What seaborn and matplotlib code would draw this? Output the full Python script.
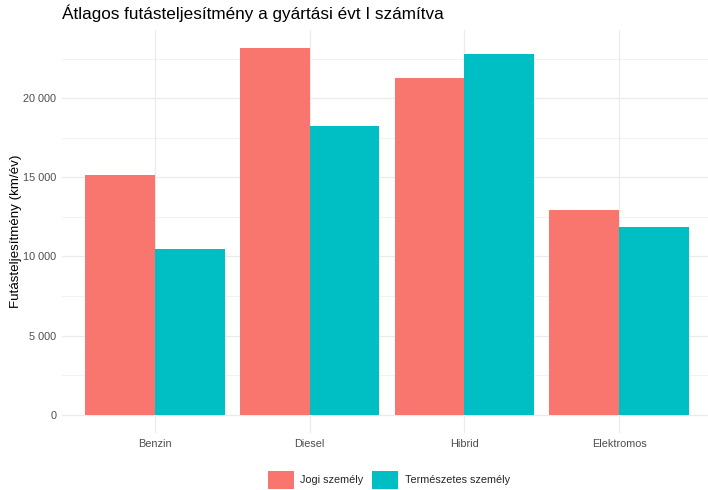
import pandas as pd
import numpy as np
import matplotlib
matplotlib.use("Agg")
import matplotlib.pyplot as plt
import seaborn as sns
from matplotlib.ticker import FuncFormatter, MultipleLocator

# adatok
uzemanyag = ["Benzin", "Diesel", "Hibrid", "Elektromos"]
jogi = [15150, 23150, 21260, 12930]
termeszetes = [10470, 18230, 22780, 11860]
csoportok = ["Jogi személy", "Természetes személy"]
szinek = ["#F8766D", "#00BFC4"]

df = pd.DataFrame({
    "uzemanyag": uzemanyag * 2,
    "ertek": jogi + termeszetes,
    "tulajdonos": [csoportok[0]] * 4 + [csoportok[1]] * 4,
})

sns.set_theme(style="white")
plt.rcParams["font.family"] = ["Liberation Sans", "DejaVu Sans"]

fig = plt.figure(figsize=(7.08, 4.9), dpi=100)
ax = fig.add_axes([0.0876, 0.1163, 0.918, 0.8227])

sns.barplot(data=df, x="uzemanyag", y="ertek", hue="tulajdonos",
            order=uzemanyag, hue_order=csoportok, palette=szinek,
            width=0.9, saturation=1, errorbar=None, ax=ax, zorder=3,
            linewidth=0, edgecolor="none")

ymax = max(jogi + termeszetes)
ax.set_ylim(-0.05 * ymax, 1.05 * ymax)
ax.set_xlim(-0.6, 3.6)
ax.yaxis.set_major_locator(MultipleLocator(5000))
ax.yaxis.set_minor_locator(MultipleLocator(2500))
ax.yaxis.set_major_formatter(FuncFormatter(lambda v, p: f"{int(v):,}".replace(",", " ")))
ax.grid(True, which="major", color="#EBEBEB", linewidth=0.9, zorder=0)
ax.grid(True, which="minor", axis="y", color="#EBEBEB", linewidth=0.5, zorder=0)
ax.set_axisbelow(True)
for s in ax.spines.values():
    s.set_visible(False)
ax.tick_params(axis="both", which="both", length=0, labelsize=7.8, labelcolor="#4D4D4D", pad=4)

ax.set_xlabel("")
ax.set_ylabel("Futásteljesítmény (km/év)", fontsize=9.6, color="black", labelpad=1)
ax.set_title("Átlagos futásteljesítmény a gyártási évt I számítva", fontsize=12.3,
             loc="left", x=0.0, pad=8, color="black")

ax.legend(loc="upper center", bbox_to_anchor=(0.503, -0.07), ncol=2, frameon=False,
          fontsize=7.8, handlelength=2.4, handleheight=2.2, handletextpad=0.6,
          columnspacing=0.8)

fig.savefig("out.png", dpi=100)
